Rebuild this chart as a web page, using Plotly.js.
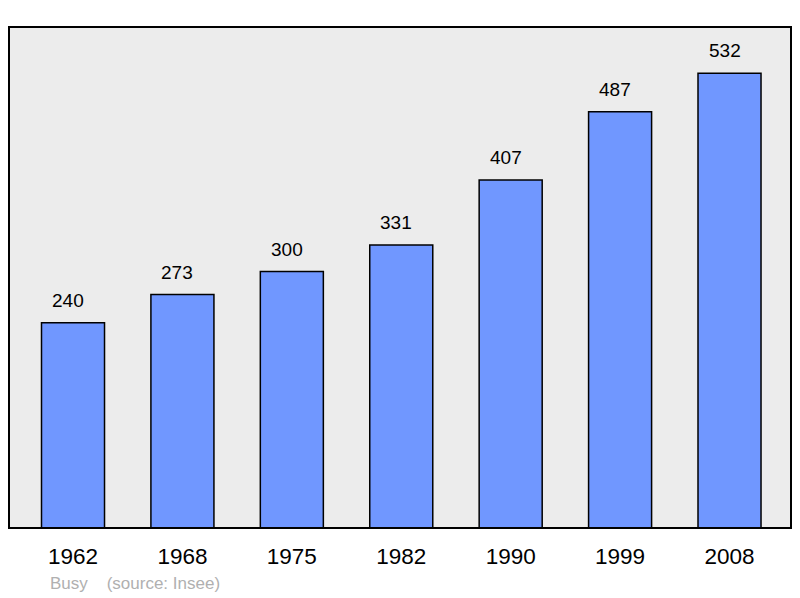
<!DOCTYPE html>
<html><head><meta charset="utf-8">
<script src="https://cdn.plot.ly/plotly-3.0.1.min.js"></script>
<style>html,body{margin:0;padding:0;background:#fff;}#chart{width:800px;height:598px;}</style>
</head><body><div id="chart"></div>
<script>
const years = ["1962","1968","1975","1982","1990","1999","2008"];
const population = [240,273,300,331,407,487,532];
const footnote = "Busy&nbsp;&nbsp;&nbsp;&nbsp;(source: Insee)";

const FONT = 'Liberation Sans, Arial, sans-serif';
const trace = {
  type: 'bar', x: years, y: population, width: 0.576,
  marker: {color: '#7097ff', line: {color: '#000', width: 1.5}},
  hoverinfo: 'none'
};
const annotations = years.map((yr, i) => ({
  x: i, y: population[i], xref: 'x', yref: 'y', text: String(population[i]),
  showarrow: false, yanchor: 'bottom', yshift: 10, xshift: -5,
  font: {family: FONT, size: 19, color: '#000'}
}));
annotations.push({
  xref: 'paper', yref: 'paper', x: 0.0505, y: -0.111, xanchor: 'left', yanchor: 'middle',
  text: footnote, showarrow: false,
  font: {family: FONT, size: 17, color: '#b0b0b0'}
});
const layout = {
  width: 800, height: 598,
  margin: {l: 9, r: 9, t: 27, b: 70},
  paper_bgcolor: '#fff', plot_bgcolor: '#ececec',
  showlegend: false,
  xaxis: {type: 'category', range: [-0.585, 6.562], showgrid: false, zeroline: false,
    showline: false, ticks: '', ticklabelstandoff: 12,
    tickfont: {family: FONT, size: 22.5, color: '#000'}},
  yaxis: {range: [0, 586], showgrid: false, zeroline: false, showticklabels: false, ticks: ''},
  annotations: annotations,
  shapes: [{type: 'rect', xref: 'paper', yref: 'paper', x0: 0, x1: 1, y0: 0, y1: 1,
    line: {color: '#000', width: 2}, layer: 'above'}]
};
Plotly.newPlot('chart', [trace], layout, {displayModeBar: false, staticPlot: true});
</script></body></html>
